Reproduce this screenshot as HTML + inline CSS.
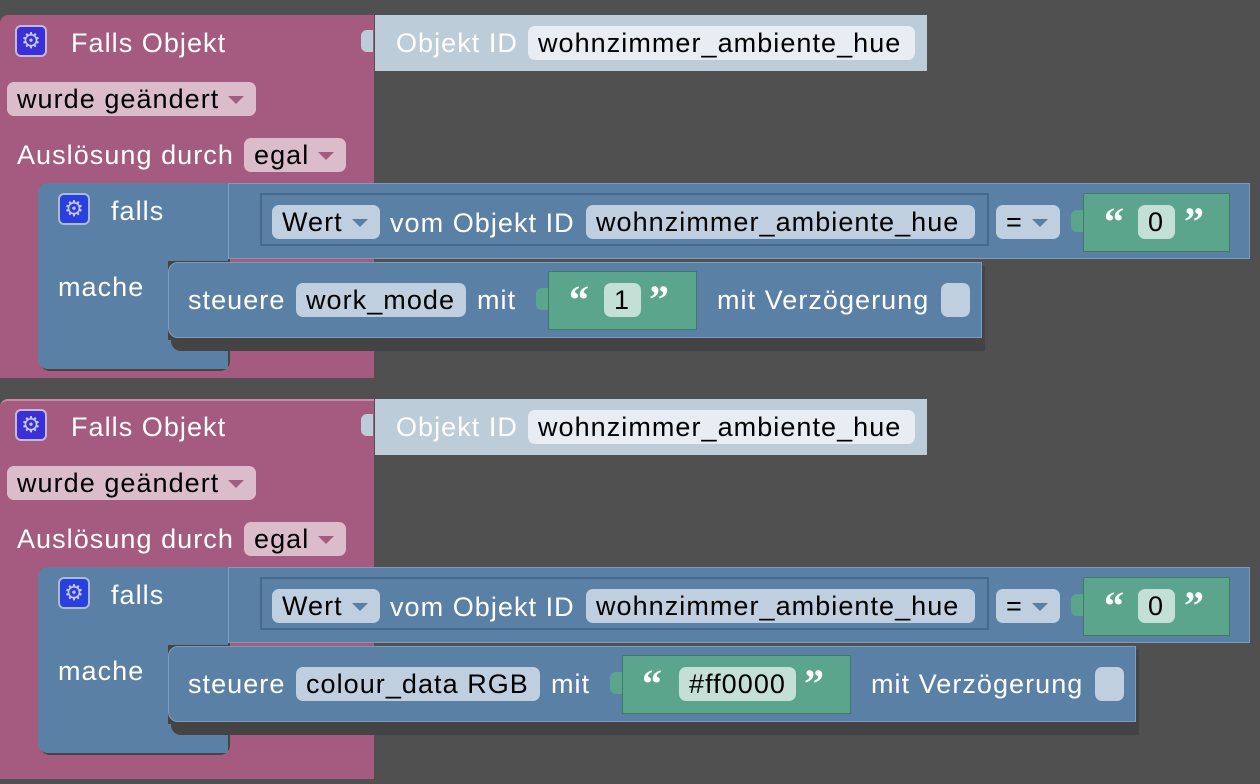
<!DOCTYPE html>
<html><head><meta charset="utf-8"><style>
*{box-sizing:border-box;margin:0;padding:0}
body{width:1260px;height:772px;background:#505050;overflow:hidden;position:relative;font-family:"Liberation Sans",sans-serif;font-size:27px;letter-spacing:1.05px}
.g{position:absolute;left:0;width:1260px;height:400px}
.a{position:absolute}
.pink{background:#a55b80}
.blue{background:#5b80a5}
.t{position:absolute;color:#fff;line-height:34px;white-space:nowrap}
.f{position:absolute;border-radius:7px;color:#000;line-height:34px;height:34px;padding-left:10px;white-space:nowrap}
.pf{background:#dbbccb}
.bf{background:#c0cfdf}
.gf{background:#c4e0d6}
.dd::after{content:"";position:absolute;right:12px;top:14px;border-left:8px solid transparent;border-right:8px solid transparent;border-top:8px solid currentColor}
.pf.dd::after{color:#a55b80}
.bf.dd::after{color:#5b80a5}
.gear{position:absolute;width:32px;height:32px;border-radius:6px;background:#3b2fd8;border:2px solid #c8b8d8;color:#c8c8f0;font-size:22px;line-height:28px;text-align:center;letter-spacing:0}
.green{background:#5ba58c;border:1px solid #3f7a66}
.q{position:absolute;color:#fff;font-family:"Liberation Serif",serif;font-weight:bold;font-size:40px;line-height:40px;letter-spacing:0}
.tab{position:absolute;width:12px;height:22px;border-radius:6px 0 0 6px}
</style></head><body>

<div class="g" style="top:0">
 <div class="a pink" style="left:0;top:15px;width:374px;height:363px;border-radius:8px 0 0 0"></div>
 <div class="a" style="left:375px;top:15px;width:552px;height:56px;background:#bdccd9"></div>
 <div class="tab" style="left:361px;top:30px;background:#bdccd9"></div>
 <div class="t" style="left:396px;top:26px;color:#fff">Objekt ID</div>
 <div class="f" style="left:528px;top:26px;width:387px;background:#e7edf3">wohnzimmer_ambiente_hue</div>
 <div class="gear" style="left:15px;top:25px">⚙</div>
 <div class="t" style="left:71px;top:26px">Falls Objekt</div>
 <div class="f pf dd" style="left:7px;top:82px;width:249px">wurde geändert</div>
 <div class="t" style="left:17px;top:138px">Auslösung durch</div>
 <div class="f pf dd" style="left:244px;top:138px;width:102px">egal</div>

 <div class="a" style="left:40px;top:188px;width:190px;height:183px;background:#444;border-radius:10px"></div>
 <div class="a blue" style="left:38px;top:183px;width:190px;height:78px;border-radius:10px 0 0 0"></div>
 <div class="a blue" style="left:38px;top:255px;width:130px;height:90px"></div>
 <div class="a blue" style="left:38px;top:340px;width:190px;height:29px;border-radius:0 0 0 10px"></div>
 <div class="gear" style="left:58px;top:193px;border-color:#a9bcd0;background:#2a3fe0">⚙</div>
 <div class="t" style="left:111px;top:194px">falls</div>
 <div class="t" style="left:58px;top:270px">mache</div>

 <div class="a blue" style="left:228px;top:183px;width:1022px;height:76px;border:1px solid #7d9cbc"></div>
 <div class="a" style="left:260px;top:193px;width:729px;height:53px;border:2px solid #46698c;background:#5b80a5"></div>
 <div class="f bf dd" style="left:272px;top:205px;width:108px">Wert</div>
 <div class="t" style="left:390px;top:206px">vom Objekt ID</div>
 <div class="f bf" style="left:586px;top:205px;width:389px">wohnzimmer_ambiente_hue</div>
 <div class="f bf dd" style="left:996px;top:205px;width:64px">=</div>
 <div class="a green" style="left:1083px;top:193px;width:147px;height:59px"></div>
 <div class="tab" style="left:1071px;top:210px;background:#5ba58c"></div>
 <div class="q" style="left:1104px;top:202px">“</div>
 <div class="f gf" style="left:1138px;top:205px;width:37px">0</div>
 <div class="q" style="left:1184px;top:202px">”</div>

 <div class="a" style="left:171px;top:266px;width:814px;height:85px;background:#444;border-radius:10px 0 0 10px"></div>
 <div class="a blue" style="left:168px;top:262px;width:814px;height:76px;border-radius:10px 0 0 10px;border:1px solid #7d9cbc"></div>
 <div class="t" style="left:188px;top:283px">steuere</div>
 <div class="f bf" style="left:296px;top:283px;width:170px">work_mode</div>
 <div class="t" style="left:477px;top:283px">mit</div>
 <div class="a green" style="left:548px;top:271px;width:149px;height:59px"></div>
 <div class="tab" style="left:536px;top:288px;background:#5ba58c"></div>
 <div class="q" style="left:569px;top:280px">“</div>
 <div class="f gf" style="left:604px;top:283px;width:37px">1</div>
 <div class="q" style="left:649px;top:280px">”</div>
 <div class="t" style="left:717px;top:283px">mit Verzögerung</div>
 <div class="f bf" style="left:941px;top:283px;width:29px;padding:0"></div>
</div>

<div class="g" style="top:384px">
 <div class="a pink" style="left:0;top:15px;width:374px;height:380px;border-radius:8px 0 0 0;border-top:2px solid #c98aa8"></div>
 <div class="a" style="left:375px;top:15px;width:552px;height:56px;background:#bdccd9"></div>
 <div class="tab" style="left:361px;top:30px;background:#bdccd9"></div>
 <div class="t" style="left:396px;top:26px;color:#fff">Objekt ID</div>
 <div class="f" style="left:528px;top:26px;width:387px;background:#e7edf3">wohnzimmer_ambiente_hue</div>
 <div class="gear" style="left:15px;top:25px">⚙</div>
 <div class="t" style="left:71px;top:26px">Falls Objekt</div>
 <div class="f pf dd" style="left:7px;top:82px;width:249px">wurde geändert</div>
 <div class="t" style="left:17px;top:138px">Auslösung durch</div>
 <div class="f pf dd" style="left:244px;top:138px;width:102px">egal</div>

 <div class="a" style="left:40px;top:188px;width:190px;height:183px;background:#444;border-radius:10px"></div>
 <div class="a blue" style="left:38px;top:183px;width:190px;height:78px;border-radius:10px 0 0 0"></div>
 <div class="a blue" style="left:38px;top:255px;width:130px;height:90px"></div>
 <div class="a blue" style="left:38px;top:340px;width:190px;height:29px;border-radius:0 0 0 10px"></div>
 <div class="gear" style="left:58px;top:193px;border-color:#a9bcd0;background:#2a3fe0">⚙</div>
 <div class="t" style="left:111px;top:194px">falls</div>
 <div class="t" style="left:58px;top:270px">mache</div>

 <div class="a blue" style="left:228px;top:183px;width:1022px;height:76px;border:1px solid #7d9cbc"></div>
 <div class="a" style="left:260px;top:193px;width:729px;height:53px;border:2px solid #46698c;background:#5b80a5"></div>
 <div class="f bf dd" style="left:272px;top:205px;width:108px">Wert</div>
 <div class="t" style="left:390px;top:206px">vom Objekt ID</div>
 <div class="f bf" style="left:586px;top:205px;width:389px">wohnzimmer_ambiente_hue</div>
 <div class="f bf dd" style="left:996px;top:205px;width:64px">=</div>
 <div class="a green" style="left:1083px;top:193px;width:147px;height:59px"></div>
 <div class="tab" style="left:1071px;top:210px;background:#5ba58c"></div>
 <div class="q" style="left:1104px;top:202px">“</div>
 <div class="f gf" style="left:1138px;top:205px;width:37px">0</div>
 <div class="q" style="left:1184px;top:202px">”</div>

 <div class="a" style="left:171px;top:266px;width:968px;height:85px;background:#444;border-radius:10px 0 0 10px"></div>
 <div class="a blue" style="left:168px;top:262px;width:968px;height:76px;border-radius:10px 0 0 10px;border:1px solid #7d9cbc"></div>
 <div class="t" style="left:188px;top:283px">steuere</div>
 <div class="f bf" style="left:296px;top:283px;width:244px">colour_data RGB</div>
 <div class="t" style="left:551px;top:283px">mit</div>
 <div class="a green" style="left:622px;top:271px;width:229px;height:59px"></div>
 <div class="tab" style="left:610px;top:288px;background:#5ba58c"></div>
 <div class="q" style="left:642px;top:280px">“</div>
 <div class="f gf" style="left:679px;top:283px;width:117px">#ff0000</div>
 <div class="q" style="left:804px;top:280px">”</div>
 <div class="t" style="left:871px;top:283px">mit Verzögerung</div>
 <div class="f bf" style="left:1095px;top:283px;width:29px;padding:0"></div>
</div>
</body></html>
